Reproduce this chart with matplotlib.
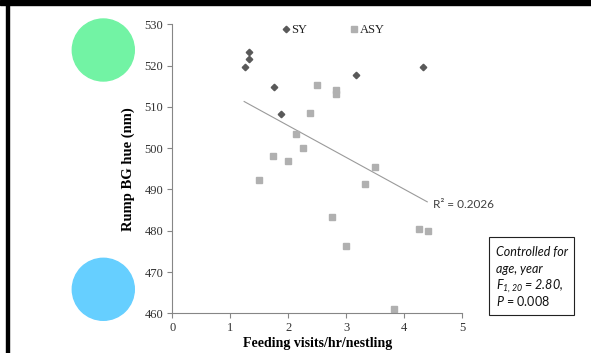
import matplotlib

matplotlib.use("Agg")
import matplotlib.pyplot as plt
from matplotlib.patches import Ellipse, Rectangle

# feeding visits/hr/nestling vs rump BG hue (nm)
sy_x = [1.25, 1.33, 1.33, 1.75, 1.87, 3.17, 4.32]
sy_y = [519.7, 521.6, 523.3, 514.9, 508.3, 517.6, 519.7]

asy_x = [2.50, 2.82, 2.82, 2.37, 2.13, 2.25, 3.49, 1.74, 1.99, 1.49,
         3.33, 2.75, 2.99, 4.25, 4.41, 3.82]
asy_y = [515.3, 514.0, 513.0, 508.6, 503.4, 500.1, 495.4, 498.0, 497.0, 492.3,
         491.3, 483.3, 476.3, 480.3, 480.0, 461.1]

# linear trendline end points (Excel style)
trend_x = [1.24, 4.40]
trend_y = [511.3, 487.0]
r2_text = "R\u00b2 = 0.2026"

x_ticks = [0, 1, 2, 3, 4, 5]
y_ticks = [460, 470, 480, 490, 500, 510, 520, 530]

plt.rcParams["mathtext.fontset"] = "custom"
plt.rcParams["mathtext.it"] = "Lato:italic"
plt.rcParams["mathtext.rm"] = "Lato:italic"

W, H = 591, 353
fig = plt.figure(figsize=(W / 100, H / 100), dpi=100)
ax = fig.add_axes([172.3 / W, 1 - 313.3 / H, 289.7 / W, 289.0 / H])

serif = "Liberation Serif"
grey = "#868686"

ax.plot(trend_x, trend_y, color="#9a9a9a", lw=0.8, zorder=1)
ax.plot(sy_x, sy_y, ls="none", marker="D", ms=3.3, color="#595959",
        mec="#595959", label="SY", zorder=3)
ax.plot(asy_x, asy_y, ls="none", marker="s", ms=5.0, color="#b0b0b0",
        mec="#b0b0b0", label="ASY", zorder=2)

ax.set_xlim(0, 5)
ax.set_ylim(460, 530)
ax.set_xticks(x_ticks)
ax.set_yticks(y_ticks)
for sp in ["top", "right"]:
    ax.spines[sp].set_visible(False)
for sp in ["left", "bottom"]:
    ax.spines[sp].set_color(grey)
    ax.spines[sp].set_linewidth(0.8)
ax.tick_params(direction="out", length=3.5, width=0.8, color=grey,
               labelsize=9, labelcolor="#333333", pad=3)
for lab in ax.get_xticklabels() + ax.get_yticklabels():
    lab.set_family(serif)

ax.set_xlabel("Feeding visits/hr/nestling", family=serif, weight="bold",
              fontsize=10, labelpad=2)
ax.set_ylabel("Rump BG hue (nm)", family=serif, weight="bold",
              fontsize=10.5, labelpad=7)

leg = ax.legend(loc="upper left", bbox_to_anchor=(0.342, 1.04), ncol=2,
                frameon=False, handlelength=0.5, handletextpad=0.2,
                columnspacing=3.5, prop={"family": serif, "size": 9})
for t in leg.get_texts():
    t.set_color("#222222")

ax.text(4.5, 486.3, r2_text, fontsize=8.5, family="Lato",
        color="#404040", va="center", ha="left")

# decorative page elements
fig.patches.append(Rectangle((0, 1 - 5 / H), 1, 5 / H, transform=fig.transFigure,
                             color="black", zorder=0))
fig.patches.append(Rectangle((6 / W, 0), 3.5 / W, 1, transform=fig.transFigure,
                             color="black", zorder=0))
fig.patches.append(Ellipse((103.3 / W, 1 - 50 / H), 62 / W, 62 / H,
                           transform=fig.transFigure, color="#72f3a4", zorder=0))
fig.patches.append(Ellipse((103.3 / W, 1 - 289.3 / H), 62 / W, 62 / H,
                           transform=fig.transFigure, color="#66cfff", zorder=0))

# stats box
fig.patches.append(Rectangle((489 / W, 1 - 315 / H), 85 / W, 78 / H,
                             transform=fig.transFigure, fill=False,
                             ec="#222222", lw=0.8))
box_lines = [("Controlled for", "italic"), ("age, year", "italic"),
             (r"$F_{1,20}$ = 2.80,", "italic"), (r"$P$ = 0.008", "normal")]
for i, (line, style) in enumerate(box_lines):
    fig.text(495.5 / W, 1 - (256 + 16.7 * i) / H, line, family="Lato",
             style=style, fontsize=9, color="#111111", va="baseline")

fig.savefig("out.png", dpi=100)
